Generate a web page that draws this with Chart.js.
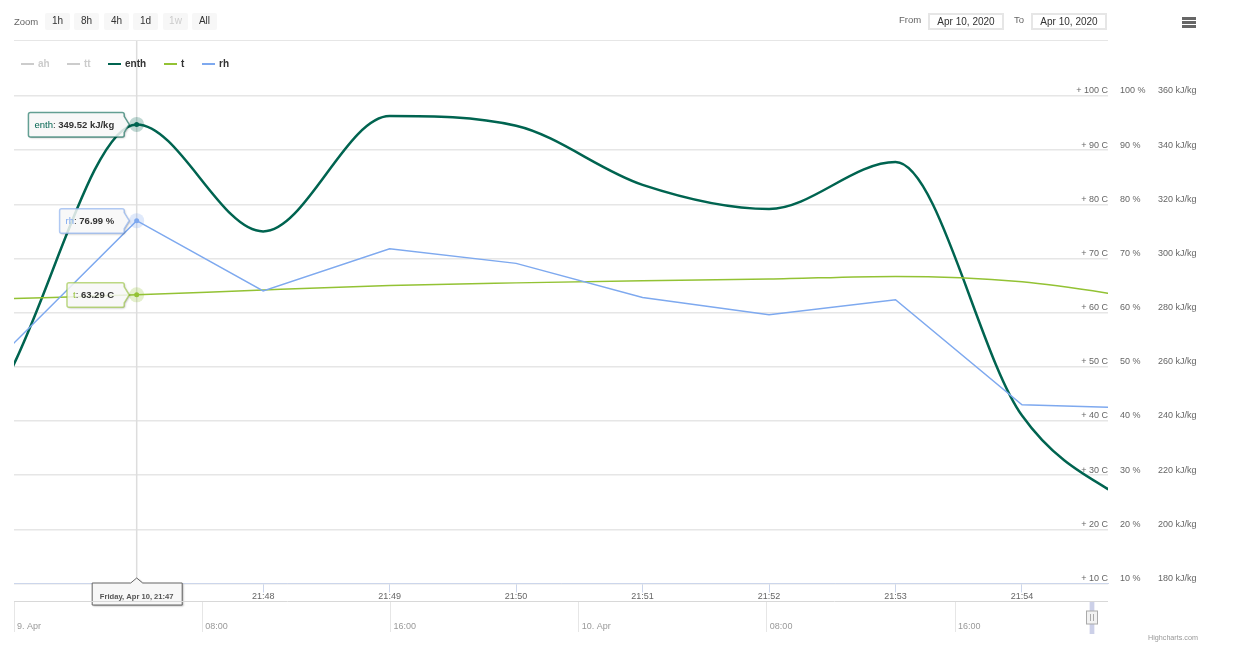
<!DOCTYPE html>
<html>
<head>
<meta charset="utf-8">
<script src="https://cdn.jsdelivr.net/npm/chart.js@4/dist/chart.umd.min.js"></script>
<style>
body { margin: 0; background: #fff; font-family: "Liberation Sans", sans-serif; color: #666; width: 1248px; height: 647px; position: relative; overflow: hidden; }
canvas { position: absolute; left: 0; }
.txt { position: absolute; font-size: 9.5px; line-height: 12px; white-space: nowrap; }
.btn { position: absolute; top: 13px; height: 17px; width: 25px; background: #f7f7f7; border-radius: 2px; font-size: 10px; line-height: 15px; text-align: center; color: #333; }
.btn.off { color: #ccc; }
.date { position: absolute; top: 13px; width: 72px; height: 13px; border: 2px solid #e6e6e6; font-size: 10px; line-height: 13px; text-align: center; color: #333; }
.bar { position: absolute; left: 1182px; width: 14px; height: 3px; background: #666; }
.legline { position: absolute; top: 63px; width: 13px; height: 2px; }
.legtxt { position: absolute; top: 58px; font-size: 10px; line-height: 12px; font-weight: bold; }
</style>
</head>
<body>
<canvas id="myChart" width="1248" height="647" style="top:0"></canvas>
<canvas id="navChart" width="1248" height="46" style="top:600px"></canvas>
<div id="topbar"></div>
<div id="legend"></div>
<script>
// dados
const minutes = [46, 47, 48, 49, 50, 51, 52, 53, 54, 55];
const xTickLabels = ['21:47', '21:48', '21:49', '21:50', '21:51', '21:52', '21:53', '21:54'];
const enthValues = [258.2, 349.52, 310, 352.6, 349, 327.2, 318.3, 335.6, 242, 205];
const tValues = [62.6, 63.29, 64.2, 65, 65.5, 65.9, 66.2, 66.7, 65.7, 62.5];
const rhValues = [53.7, 76.99, 64, 71.8, 69.1, 62.8, 59.6, 62.4, 43, 42.3];
const tempTicks = [10, 20, 30, 40, 50, 60, 70, 80, 90, 100];
const enthTicks = [180, 200, 220, 240, 260, 280, 300, 320, 340, 360];

const navHours = [0, 8, 16, 24, 32, 40];
const navLabels = ['9. Apr', '08:00', '16:00', '10. Apr', '08:00', '16:00'];
const navWindow = [45.72, 45.92];

const zoomButtons = ['1h', '8h', '4h', '1d', '1w', 'All'];
const legendNames = ['ah', 'tt', 'enth', 't', 'rh'];
const legendColors = ['#cccccc', '#cccccc', '#006450', '#93c234', '#7ea9ef'];

const activeIndex = 1;
const FONT = '"Liberation Sans", sans-serif';

// barra de cima e legenda
const topbar = document.getElementById('topbar');
let html = '<div class="txt" style="left:14px;top:16px">Zoom</div>';
const btnLeft = [45, 74, 104, 133, 163, 192];
zoomButtons.forEach(function (b, i) {
    html += '<div class="btn' + (b === '1w' ? ' off' : '') + '" style="left:' + btnLeft[i] + 'px">' + b + '</div>';
});
html += '<div class="txt" style="left:899px;top:14px">From</div>';
html += '<div class="date" style="left:928px">Apr 10, 2020</div>';
html += '<div class="txt" style="left:1014px;top:14px">To</div>';
html += '<div class="date" style="left:1031px">Apr 10, 2020</div>';
html += '<div class="bar" style="top:17px"></div><div class="bar" style="top:21px"></div><div class="bar" style="top:25px"></div>';
html += '<div style="position:absolute;left:14px;top:40px;width:1094px;height:1px;background:#e6e6e6"></div>';
html += '<div class="txt" style="left:1148px;top:632px;font-size:7.2px;color:#999">Highcharts.com</div>';
topbar.innerHTML = html;

const legLeft = [21, 67, 108, 164, 202];
let legHtml = '';
legendNames.forEach(function (n, i) {
    const hidden = i < 2;
    legHtml += '<div class="legline" style="left:' + legLeft[i] + 'px;background:' + legendColors[i] + '"></div>';
    legHtml += '<div class="legtxt" style="left:' + (legLeft[i] + 17) + 'px;color:' + (hidden ? '#ccc' : '#333') + '">' + n + '</div>';
});
document.getElementById('legend').innerHTML = legHtml;

function activeRadius(c) {
    return c.dataIndex === activeIndex ? 2.5 : 0;
}

function fixWidth(w) {
    return function (scale) { scale.width = w; };
}

function drawTip(ctx, px, py, name, value, color) {
    ctx.save();
    ctx.font = '9.5px ' + FONT;
    const w1 = ctx.measureText(name + ': ').width;
    ctx.font = 'bold 9.5px ' + FONT;
    const w2 = ctx.measureText(value).width;
    const right = px - 12.5;
    const left = right - w1 - w2 - 16;
    const top = py - 12;
    const bottom = py + 12.5;
    const box = new Path2D();
    box.moveTo(left + 2, top);
    box.lineTo(right - 2, top);
    box.quadraticCurveTo(right, top, right, top + 2);
    box.lineTo(right, py - 8);
    box.lineTo(right + 5, py);
    box.lineTo(right, py + 8);
    box.lineTo(right, bottom - 2);
    box.quadraticCurveTo(right, bottom, right - 2, bottom);
    box.lineTo(left + 2, bottom);
    box.quadraticCurveTo(left, bottom, left, bottom - 2);
    box.lineTo(left, top + 2);
    box.quadraticCurveTo(left, top, left + 2, top);
    box.closePath();

    // sombra so do lado de fora da caixa
    const outside = new Path2D();
    outside.rect(0, 0, ctx.canvas.width, ctx.canvas.height);
    outside.addPath(box);
    ctx.save();
    ctx.clip(outside, 'evenodd');
    ctx.shadowColor = 'rgba(0,0,0,0.3)';
    ctx.shadowOffsetX = 1;
    ctx.shadowOffsetY = 1;
    ctx.shadowBlur = 2;
    ctx.fillStyle = '#fff';
    ctx.fill(box);
    ctx.restore();

    ctx.fillStyle = 'rgba(247,247,247,0.85)';
    ctx.fill(box);
    ctx.save();
    ctx.globalAlpha = 0.6;
    ctx.strokeStyle = color;
    ctx.lineWidth = 1.5;
    ctx.stroke(box);
    ctx.restore();

    ctx.textBaseline = 'middle';
    ctx.textAlign = 'left';
    ctx.font = '9.5px ' + FONT;
    ctx.fillStyle = color;
    ctx.fillText(name, left + 6, py + 0.5);
    ctx.fillStyle = '#333';
    ctx.fillText(': ', left + 6 + ctx.measureText(name).width, py + 0.5);
    ctx.font = 'bold 9.5px ' + FONT;
    ctx.fillText(value, left + 6 + w1, py + 0.5);
    ctx.restore();
}

function drawDateTip(ctx, px, axisY, text) {
    ctx.save();
    const left = px - 44.5;
    const right = px + 45.5;
    const top = axisY - 0.5;
    const bottom = axisY + 21.5;
    ctx.beginPath();
    ctx.moveTo(left, top);
    ctx.lineTo(px - 6, top);
    ctx.lineTo(px, top - 5);
    ctx.lineTo(px + 6, top);
    ctx.lineTo(right, top);
    ctx.lineTo(right, bottom);
    ctx.lineTo(left, bottom);
    ctx.closePath();
    ctx.shadowColor = 'rgba(0,0,0,0.4)';
    ctx.shadowOffsetX = 1;
    ctx.shadowOffsetY = 1;
    ctx.shadowBlur = 2;
    ctx.fillStyle = '#f7f7f7';
    ctx.fill();
    ctx.shadowColor = 'transparent';
    ctx.strokeStyle = '#666';
    ctx.lineWidth = 1;
    ctx.stroke();
    ctx.font = 'bold 7.6px ' + FONT;
    ctx.fillStyle = '#555';
    ctx.textAlign = 'center';
    ctx.textBaseline = 'middle';
    ctx.fillText(text, px, top + 14);
    ctx.restore();
}

// crosshair atras das linhas
const crosshair = {
    id: 'crosshair',
    beforeDatasetsDraw: function (chart) {
        const x = chart.scales.x.getPixelForValue(minutes[activeIndex]);
        const ctx = chart.ctx;
        ctx.save();
        ctx.strokeStyle = '#dddddd';
        ctx.lineWidth = 1.5;
        ctx.beginPath();
        ctx.moveTo(x, 41);
        ctx.lineTo(x, chart.chartArea.bottom);
        ctx.stroke();
        ctx.restore();
    },
    afterDatasetsDraw: function (chart) {
        const ctx = chart.ctx;
        const units = { enth: ' kJ/kg', t: ' C', rh: ' %' };
        chart.data.datasets.forEach(function (ds, i) {
            const pt = chart.getDatasetMeta(i).data[activeIndex];
            ctx.save();
            ctx.globalAlpha = 0.25;
            ctx.fillStyle = ds.borderColor;
            ctx.beginPath();
            ctx.arc(pt.x, pt.y, 7.5, 0, Math.PI * 2);
            ctx.fill();
            ctx.restore();
            drawTip(ctx, pt.x, pt.y, ds.label, ds.data[activeIndex].toFixed(2) + units[ds.label], ds.borderColor);
        });
        drawDateTip(ctx, chart.scales.x.getPixelForValue(minutes[activeIndex]), chart.chartArea.bottom, 'Friday, Apr 10, 21:47');
    }
};

const myChart = new Chart(document.getElementById('myChart').getContext('2d'), {
    type: 'line',
    data: {
        labels: minutes,
        datasets: [{
            label: 'enth',
            data: enthValues,
            yAxisID: 'yEnth',
            borderColor: legendColors[2],
            backgroundColor: legendColors[2],
            borderWidth: 2.5,
            cubicInterpolationMode: 'monotone',
            pointRadius: activeRadius,
            pointBorderWidth: 0,
            order: 3
        }, {
            label: 't',
            data: tValues,
            yAxisID: 'yTemp',
            borderColor: legendColors[3],
            backgroundColor: legendColors[3],
            borderWidth: 1.5,
            cubicInterpolationMode: 'monotone',
            pointRadius: activeRadius,
            pointBorderWidth: 0,
            order: 2
        }, {
            label: 'rh',
            data: rhValues,
            yAxisID: 'yRh',
            borderColor: legendColors[4],
            backgroundColor: legendColors[4],
            borderWidth: 1.5,
            tension: 0,
            pointRadius: activeRadius,
            pointBorderWidth: 0,
            order: 1
        }]
    },
    options: {
        responsive: false,
        animation: false,
        events: [],
        layout: { padding: { left: 14, top: 96, right: 0, bottom: 0 } },
        plugins: { legend: { display: false }, tooltip: { enabled: false } },
        scales: {
            x: {
                type: 'linear',
                min: 46.03,
                max: 54.68,
                afterBuildTicks: function (scale) {
                    scale.ticks = xTickLabels.map(function (l, i) { return { value: 47 + i }; });
                },
                afterFit: function (scale) { scale.height = 63.5; },
                border: { color: '#ccd6eb' },
                grid: { drawOnChartArea: false, tickLength: 9, tickColor: '#ccd6eb' },
                ticks: {
                    autoSkip: false,
                    maxRotation: 0,
                    padding: -1,
                    color: '#666',
                    font: { size: 9, family: FONT },
                    callback: function (value) { return xTickLabels[value - 47]; }
                }
            },
            yTemp: {
                position: 'right',
                min: 10,
                max: 100,
                afterBuildTicks: function (scale) {
                    scale.ticks = tempTicks.map(function (v) { return { value: v }; });
                },
                afterFit: fixWidth(12),
                border: { display: false },
                grid: { color: '#e6e6e6', lineWidth: 1.5, drawTicks: false },
                ticks: {
                    mirror: true,
                    padding: 0,
                    labelOffset: -5,
                    color: '#666',
                    font: { size: 9, family: FONT },
                    callback: function (value) { return '+ ' + value + ' C'; }
                }
            },
            yRh: {
                position: 'right',
                min: 10,
                max: 100,
                afterBuildTicks: function (scale) {
                    scale.ticks = tempTicks.map(function (v) { return { value: v }; });
                },
                afterFit: fixWidth(38),
                border: { display: false },
                grid: { display: false, drawTicks: false },
                ticks: {
                    padding: 0,
                    labelOffset: -5,
                    color: '#666',
                    font: { size: 9, family: FONT },
                    callback: function (value) { return value + ' %'; }
                }
            },
            yEnth: {
                position: 'right',
                min: 180,
                max: 360,
                afterBuildTicks: function (scale) {
                    scale.ticks = enthTicks.map(function (v) { return { value: v }; });
                },
                afterFit: fixWidth(90),
                border: { display: false },
                grid: { display: false, drawTicks: false },
                ticks: {
                    padding: 0,
                    labelOffset: -5,
                    color: '#666',
                    font: { size: 9, family: FONT },
                    callback: function (value) { return value + ' kJ/kg'; }
                }
            }
        }
    },
    plugins: [crosshair]
});

// navegador
const navDecor = {
    id: 'navDecor',
    afterDraw: function (chart) {
        const ctx = chart.ctx;
        const a = chart.chartArea;
        const sx = chart.scales.x;
        const x0 = sx.getPixelForValue(navWindow[0]);
        const x1 = sx.getPixelForValue(navWindow[1]);
        const mid = (x0 + x1) / 2;
        ctx.save();
        ctx.strokeStyle = '#d8d8d8';
        ctx.lineWidth = 1;
        ctx.beginPath();
        ctx.moveTo(a.left, a.top + 0.5);
        ctx.lineTo(a.right, a.top + 0.5);
        ctx.stroke();
        ctx.fillStyle = '#ccd0e8';
        ctx.fillRect(x0, a.top + 1, x1 - x0, 32);
        ctx.fillStyle = '#f2f2f2';
        ctx.strokeStyle = '#aaa';
        ctx.fillRect(mid - 5.5, a.top + 10, 11, 13);
        ctx.strokeRect(mid - 5.5, a.top + 10, 11, 13);
        ctx.beginPath();
        ctx.moveTo(mid - 1.5, a.top + 13);
        ctx.lineTo(mid - 1.5, a.top + 20);
        ctx.moveTo(mid + 1.5, a.top + 13);
        ctx.lineTo(mid + 1.5, a.top + 20);
        ctx.stroke();
        ctx.restore();
    }
};

const navChart = new Chart(document.getElementById('navChart').getContext('2d'), {
    type: 'line',
    data: { datasets: [] },
    options: {
        responsive: false,
        animation: false,
        events: [],
        layout: { padding: { left: 14, right: 140, top: 1, bottom: 0 } },
        plugins: { legend: { display: false }, tooltip: { enabled: false } },
        scales: {
            x: {
                type: 'linear',
                min: 0,
                max: 46.5,
                afterBuildTicks: function (scale) {
                    scale.ticks = navHours.map(function (h) { return { value: h }; });
                },
                afterFit: function (scale) { scale.height = 25; },
                border: { display: false },
                grid: { color: '#e6e6e6', tickColor: '#e6e6e6', tickLength: 11 },
                ticks: {
                    autoSkip: false,
                    maxRotation: 0,
                    align: 'start',
                    padding: -11,
                    labelOffset: 3,
                    color: '#999',
                    font: { size: 9, family: FONT },
                    callback: function (value) { return navLabels[navHours.indexOf(value)]; }
                }
            },
            y: { display: false, min: 0, max: 1 }
        }
    },
    plugins: [navDecor]
});
</script>
</body>
</html>
